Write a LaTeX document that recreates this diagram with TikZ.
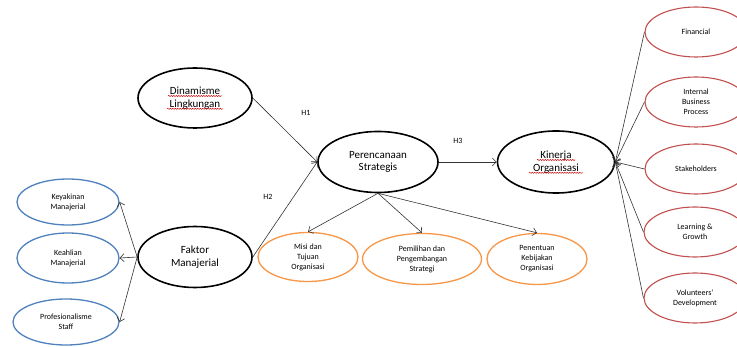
\documentclass[tikz,border=0pt]{standalone}
\usepackage{fontspec}
\setmainfont{Carlito}
\usetikzlibrary{shapes.geometric,arrows.meta,decorations.pathmorphing}
\definecolor{cblue}{HTML}{4F81BD}
\definecolor{corange}{HTML}{F79646}
\definecolor{cred}{HTML}{C0504D}
\tikzset{
  bigell/.style={ellipse,draw=black,line width=1.6pt,inner sep=0pt,align=center,font=\fontsize{11}{12.6}\selectfont},
  blueell/.style={ellipse,draw=cblue,line width=1.3pt,inner sep=0pt,align=center,font=\fontsize{8}{10}\selectfont,minimum width=102pt,minimum height=46pt},
  orell/.style={ellipse,draw=corange,line width=1.3pt,inner sep=0pt,align=center,font=\fontsize{8}{10}\selectfont,minimum height=51pt},
  redell/.style={ellipse,draw=cred,line width=1.1pt,inner sep=0pt,align=center,font=\fontsize{8}{10}\selectfont,minimum width=102pt,minimum height=50pt},
  arr/.style={draw=black!80,line width=0.6pt,-{Straight Barb[length=4pt,width=8pt]}},
  hlab/.style={font=\fontsize{8}{9}\selectfont,inner sep=0pt},
  squig/.style={draw=red!80!black,line width=0.5pt,decorate,decoration={snake,amplitude=0.6pt,segment length=2.5pt}}
}
\begin{document}
\begin{tikzpicture}[x=1pt,y=-1pt]
\useasboundingbox (0,0) rectangle (737,347);
% main nodes
\node[bigell,minimum width=114pt,minimum height=60pt] (dina) at (195,98) {Dinamisme\\Lingkungan};
\node[bigell,minimum width=120pt,minimum height=61pt] (per) at (378,162) {Perencanaan\\Strategis};
\node[bigell,minimum width=117pt,minimum height=62pt] (kin) at (556,162) {Kinerja\\Organisasi};
\node[bigell,minimum width=114pt,minimum height=61pt] (fak) at (195,257) {Faktor\\Manajerial};
% blue
\node[blueell] (key) at (68,202) {Keyakinan\\Manajerial};
\node[blueell,minimum height=50pt] (kea) at (68,258) {Keahlian\\Manajerial};
\node[blueell,minimum width=106pt] (pro) at (66,322) {Profesionalisme\\Staff};
% orange
\node[orell,minimum width=100pt,minimum height=49pt] (misi) at (308,257) {Misi dan\\Tujuan\\Organisasi};
\node[orell,minimum width=119pt] (pem) at (422,259) {Pemilihan dan\\Pengembangan\\Strategi};
\node[orell,minimum width=100pt] (pen) at (537,259) {Penentuan\\Kebijakan\\Organisasi};
% red
\node[redell] (fin) at (696,32) {Financial};
\node[redell] (ibp) at (696,102) {Internal\\Business\\Process};
\node[redell] (sta) at (696,169) {Stakeholders};
\node[redell] (lea) at (695,232) {Learning \&\\Growth};
\node[redell] (vol) at (695,298) {Volunteers’\\Development};
% labels
\node[hlab] (h1) at (306,113) {H1};
\node[hlab] (h2) at (268,197) {H2};
\node[hlab] (h3) at (458,141) {H3};
% connectors
\draw[arr] (dina.east) -- (per.west);
\draw[arr] (fak.east) -- (per.west);
\draw[arr] (per.east) -- (kin.west);
\draw[arr] (fak.west) -- (key.east);
\draw[arr] (fak.west) -- (kea.east);
\draw[arr] (fak.west) -- (pro.east);
\draw[arr] (per.south) -- (misi.north);
\draw[arr] (per.south) -- (pem.north);
\draw[arr] (per.south) -- (pen.north);
\draw[arr] (fin.west) -- (kin.east);
\draw[arr] (ibp.west) -- (kin.east);
\draw[arr] (sta.west) -- (kin.east);
\draw[arr] (lea.west) -- (kin.east);
\draw[arr] (vol.west) -- (kin.east);
% spelling squiggles
\path[squig] ([xshift=-27pt,yshift=2pt]dina.center) -- ([xshift=27pt,yshift=2pt]dina.center);
\path[squig] ([xshift=-28pt,yshift=-10.8pt]dina.center) -- ([xshift=28pt,yshift=-10.8pt]dina.center);
\path[squig] ([xshift=-19pt,yshift=2pt]kin.center) -- ([xshift=19pt,yshift=2pt]kin.center);
\path[squig] ([xshift=-27pt,yshift=-10.8pt]kin.center) -- ([xshift=27pt,yshift=-10.8pt]kin.center);
\end{tikzpicture}
\end{document}
